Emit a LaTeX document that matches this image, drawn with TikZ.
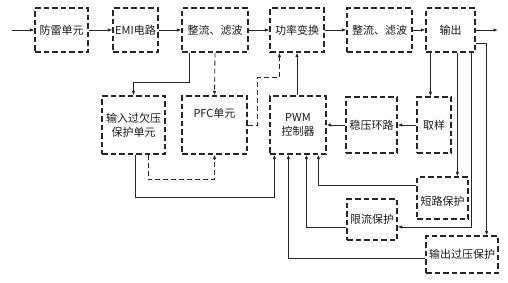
\documentclass[tikz,border=0pt]{standalone}
\usepackage{fontspec}
\setmainfont{Noto Sans CJK SC}
\usetikzlibrary{arrows.meta}
\begin{document}
\begin{tikzpicture}[x=1pt,y=-1pt,
  blk/.style={draw=black!85,line width=1.2pt,dash pattern=on 5.5pt off 3pt,
    inner sep=1pt,align=center,font=\fontsize{11}{14}\selectfont,text=black!90},
  con/.style={line width=0.85pt,draw=black!85,-{Latex[length=4.5pt,width=3.5pt]}},
  dcon/.style={con,dash pattern=on 5pt off 3pt}]
\useasboundingbox (0,0) rectangle (508,282);
% top row
\node[blk,minimum width=53pt,minimum height=44pt] (fl)  at (61.5,30) {防雷单元};
\node[blk,minimum width=45pt,minimum height=44pt] (emi) at (135.5,30) {EMI电路};
\node[blk,minimum width=66pt,minimum height=44pt] (zl1) at (215,30) {整流、滤波};
\node[blk,minimum width=54pt,minimum height=44pt] (gl)  at (297,30) {功率变换};
\node[blk,minimum width=65pt,minimum height=44pt] (zl2) at (379.5,30) {整流、滤波};
\node[blk,minimum width=49pt,minimum height=44pt] (sc)  at (450.5,30) {输出};
% middle row
\node[blk,minimum width=63pt,minimum height=58pt] (qy)  at (133.5,125) {输入过欠压\\保护单元};
\node[blk,minimum width=65pt,minimum height=58pt] (pfc) at (214.5,125) {PFC单元\\[10pt]};
\node[blk,minimum width=56pt,minimum height=58pt] (pwm) at (298,125) {PWM\\控制器};
\node[blk,minimum width=51pt,minimum height=56pt] (wy)  at (371.5,125) {稳压环路};
\node[blk,minimum width=34pt,minimum height=56pt] (qyang) at (434,125) {取样};
% protections
\node[blk,minimum width=51pt,minimum height=42pt] (dl) at (442.5,198) {\\[2pt]短路保护};
\node[blk,minimum width=50pt,minimum height=41pt] (xl) at (372,219.5) {限流保护};
\node[blk,minimum width=72pt,minimum height=37pt] (gy) at (462,254.5) {输出过压保护};
% free ends
\coordinate (in)  at (12,30);
\coordinate (out) at (498,30);
% top row connectors
\draw[con] (in) -- (fl);
\draw[con] (fl) -- (emi);
\draw[con] (emi) -- (zl1);
\draw[con] (zl1) -- (gl);
\draw[con] (gl) -- (zl2);
\draw[con] (zl2) -- (sc);
\draw[con] (sc) -- (out);
% rectifier to input protection / PFC
\coordinate (a1) at ([xshift=8pt]zl1.south west);
\draw[con] (a1) -- ++(0,30) -| (qy.north);
\draw[dcon] (zl1.south) -- (pfc.north);
% PFC to power conversion
\coordinate (a2) at ([xshift=10pt]gl.south west);
\draw[dcon] (pfc.east) -- ++(10,0) -- ++(0,-48) -| (a2);
% PWM to power conversion
\draw[con] (pwm.north -| gl.south) -- (gl.south);
% output taps
\coordinate (o1) at ([xshift=5pt]sc.south west);
\coordinate (o2) at ([xshift=32pt]sc.south west);
\coordinate (o3) at ([xshift=46pt]sc.south west);
\coordinate (o4) at ([yshift=-13pt]sc.east);
\coordinate (g1) at ([xshift=-12pt]gy.north east);
\coordinate (x1) at ([yshift=-7.5pt]xl.east);
\draw[con] (o1) -- (o1 |- qyang.north);
\draw[con] (o2) -- (o2 |- dl.north);
\draw[con] (o3) |- (x1);
\draw[con] (o4) -| (g1);
% feedback loop
\draw[con] (qyang) -- (wy);
\draw[con] (wy) -- (pwm);
% protections to PWM
\coordinate (d1) at ([yshift=13pt]dl.west);
\coordinate (p4) at ([xshift=49pt]pwm.south west);
\draw[con] (d1) -| (p4);
\coordinate (p3) at ([xshift=37pt]pwm.south west);
\draw[con] ([yshift=-7.5pt]xl.west) -| (p3);
\coordinate (p2) at ([xshift=19pt]pwm.south west);
\draw[con] ([yshift=-3.5pt]gy.west) -| (p2);
\coordinate (p1) at ([xshift=5pt]pwm.south west);
\coordinate (q1) at ([xshift=1.5pt]qy.south);
\draw[con] (q1) -- ++(0,43) -| (p1);
\coordinate (q2) at ([xshift=14.5pt]qy.south);
\draw[dcon] (q2) -- ++(0,25) -| (pfc.south);
\end{tikzpicture}
\end{document}
